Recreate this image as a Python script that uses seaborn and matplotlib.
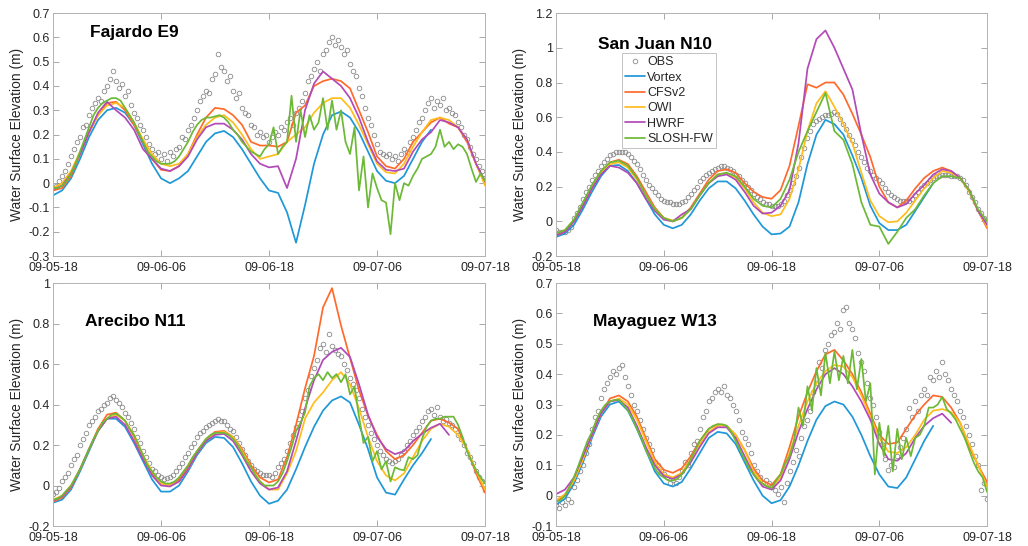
import numpy as np
import matplotlib
matplotlib.use("Agg")
import matplotlib.pyplot as plt
from matplotlib.ticker import FuncFormatter
import seaborn as sns

# ---------------- data (hours after 09-05 18:00) ----------------
HOURLY = 1.0
HALF = 0.5
THIRD = 1.0 / 3.0

x_tick_hours = [0, 12, 24, 36, 48]
x_tick_labels = ["09-05-18", "09-06-06", "09-06-18", "09-07-06", "09-07-18"]
series_names = ["OBS", "Vortex", "CFSv2", "OWI", "HWRF", "SLOSH-FW"]

# ---- Fajardo E9 ----
fajardo_obs = [-0.02, -0.01, 0.01, 0.03, 0.05, 0.08, 0.11, 0.14, 0.17, 0.19, 0.23, 0.24,
               0.28, 0.31, 0.33, 0.35, 0.34, 0.38, 0.40, 0.43, 0.46, 0.42, 0.39, 0.41,
               0.36, 0.38, 0.32, 0.29, 0.27, 0.24, 0.22, 0.19, 0.16, 0.14, 0.12, 0.13,
               0.10, 0.12, 0.09, 0.13, 0.11, 0.14, 0.15, 0.19, 0.18, 0.22, 0.24, 0.27,
               0.30, 0.34, 0.36, 0.38, 0.37, 0.43, 0.45, 0.53, 0.48, 0.46, 0.42, 0.44,
               0.38, 0.35, 0.37, 0.31, 0.29, 0.28, 0.24, 0.23, 0.20, 0.21, 0.19, 0.20,
               0.17, 0.19, 0.21, 0.20, 0.23, 0.22, 0.25, 0.27, 0.24, 0.29, 0.31, 0.34,
               0.37, 0.42, 0.44, 0.47, 0.50, 0.46, 0.53, 0.55, 0.58, 0.60, 0.57, 0.59,
               0.56, 0.53, 0.55, 0.49, 0.46, 0.44, 0.39, 0.36, 0.31, 0.27, 0.24, 0.20,
               0.16, 0.13, 0.12, 0.11, 0.12, 0.10, 0.11, 0.09, 0.12, 0.14, 0.13, 0.17,
               0.19, 0.22, 0.25, 0.27, 0.30, 0.33, 0.35, 0.31, 0.34, 0.32, 0.35, 0.30,
               0.31, 0.29, 0.28, 0.25, 0.23, 0.20, 0.18, 0.15, 0.12, 0.10, 0.07, 0.05,
               0.02]
fajardo_vortex = [-0.05, -0.03, 0.02, 0.10, 0.19, 0.26, 0.30, 0.31, 0.29, 0.24, 0.16, 0.08, 0.02,
                  0.0, 0.02, 0.05, 0.11, 0.17, 0.205, 0.215, 0.19, 0.14, 0.08, 0.02, -0.03, -0.04,
                  -0.12, -0.245, -0.09, 0.08, 0.20, 0.28, 0.295, 0.27, 0.21, 0.13, 0.05, 0.01, 0.0,
                  0.03, 0.10, 0.17, 0.22]
fajardo_cfsv2 = [-0.03, -0.02, 0.03, 0.12, 0.21, 0.28, 0.33, 0.335, 0.30, 0.24, 0.17, 0.10, 0.055,
                 0.05, 0.07, 0.12, 0.20, 0.27, 0.31, 0.305, 0.28, 0.24, 0.17, 0.155, 0.155, 0.15,
                 0.17, 0.29, 0.32, 0.40, 0.42, 0.43, 0.42, 0.39, 0.30, 0.21, 0.11, 0.07, 0.06,
                 0.10, 0.17, 0.21, 0.25, 0.27, 0.245, 0.23, 0.17, 0.08, 0.0]
fajardo_owi = [-0.02, 0.0, 0.05, 0.13, 0.21, 0.28, 0.32, 0.33, 0.31, 0.25, 0.18, 0.12, 0.08,
               0.07, 0.08, 0.12, 0.19, 0.24, 0.27, 0.28, 0.25, 0.20, 0.14, 0.10, 0.11, 0.12,
               0.17, 0.20, 0.23, 0.29, 0.33, 0.35, 0.35, 0.31, 0.24, 0.16, 0.08, 0.045, 0.04,
               0.08, 0.15, 0.21, 0.26, 0.27, 0.26, 0.23, 0.18, 0.08, -0.01]
fajardo_hwrf = [-0.025, -0.01, 0.04, 0.12, 0.21, 0.29, 0.335, 0.30, 0.27, 0.22, 0.14, 0.10, 0.06,
                0.05, 0.07, 0.11, 0.18, 0.23, 0.245, 0.245, 0.22, 0.18, 0.12, 0.08, 0.065, 0.07,
                -0.02, 0.10, 0.30, 0.41, 0.46, 0.43, 0.40, 0.35, 0.27, 0.17, 0.09, 0.055, 0.05,
                0.06, 0.13, 0.18, 0.21, 0.26, 0.25, 0.23, 0.18, 0.08, 0.01]
fajardo_slosh = [-0.02, -0.02, -0.01, 0.01, 0.04, 0.08, 0.13, 0.18, 0.23, 0.28,
                 0.31, 0.33, 0.34, 0.35, 0.35, 0.34, 0.31, 0.28, 0.25, 0.21,
                 0.17, 0.13, 0.11, 0.09, 0.08, 0.08, 0.08, 0.09, 0.11, 0.14,
                 0.17, 0.21, 0.24, 0.26, 0.27, 0.27, 0.275, 0.28, 0.27, 0.25,
                 0.22, 0.20, 0.17, 0.15, 0.13, 0.12, 0.11, 0.14, 0.16, 0.23,
                 0.12, 0.15, 0.17, 0.36, 0.17, 0.30, 0.19, 0.28, 0.22, 0.25,
                 0.35, 0.22, 0.34, 0.22, 0.30, 0.17, 0.12, 0.23, -0.03, 0.11,
                 -0.10, 0.04, -0.02, -0.07, -0.08, -0.21, 0.0, -0.07, 0.0, -0.01,
                 0.03, 0.06, 0.10, 0.11, 0.12, 0.15, 0.22, 0.15, 0.17, 0.14,
                 0.16, 0.15, 0.12, 0.06, 0.005, 0.04, 0.01]

# ---- San Juan N10 ----
sanjuan_obs = [-0.05, -0.06, -0.06, -0.06, -0.05, -0.03, 0.02, 0.05, 0.08, 0.13, 0.17, 0.20,
               0.24, 0.27, 0.29, 0.32, 0.34, 0.36, 0.38, 0.39, 0.40, 0.40, 0.40, 0.40,
               0.39, 0.37, 0.35, 0.33, 0.30, 0.27, 0.24, 0.21, 0.19, 0.17, 0.15, 0.13,
               0.12, 0.11, 0.11, 0.10, 0.10, 0.10, 0.11, 0.12, 0.14, 0.16, 0.18, 0.20,
               0.23, 0.25, 0.27, 0.28, 0.29, 0.30, 0.31, 0.32, 0.32, 0.31, 0.30, 0.29,
               0.27, 0.26, 0.24, 0.22, 0.20, 0.18, 0.16, 0.14, 0.13, 0.11, 0.10, 0.10,
               0.09, 0.09, 0.09, 0.10, 0.12, 0.15, 0.18, 0.22, 0.26, 0.31, 0.37, 0.42,
               0.48, 0.52, 0.56, 0.58, 0.59, 0.60, 0.61, 0.61, 0.62, 0.63, 0.62, 0.59,
               0.56, 0.53, 0.50, 0.47, 0.44, 0.40, 0.37, 0.34, 0.31, 0.29, 0.27, 0.25,
               0.24, 0.22, 0.19, 0.17, 0.15, 0.14, 0.13, 0.12, 0.12, 0.12, 0.12, 0.13,
               0.15, 0.17, 0.19, 0.21, 0.22, 0.24, 0.25, 0.26, 0.26, 0.27, 0.27, 0.27,
               0.26, 0.26, 0.26, 0.25, 0.24, 0.21, 0.17, 0.14, 0.11, 0.07, 0.05, 0.02,
               0.0]
sanjuan_vortex = [-0.09, -0.07, -0.02, 0.07, 0.17, 0.26, 0.32, 0.325, 0.29, 0.22, 0.13, 0.04, -0.02,
                  -0.04, -0.02, 0.04, 0.12, 0.19, 0.23, 0.23, 0.19, 0.12, 0.04, -0.03, -0.075, -0.07,
                  -0.03, 0.11, 0.33, 0.50, 0.585, 0.56, 0.50, 0.38, 0.25, 0.09, -0.01, -0.05, -0.05,
                  -0.02, 0.06, 0.14, 0.22]
sanjuan_cfsv2 = [-0.08, -0.06, 0.0, 0.09, 0.19, 0.28, 0.34, 0.355, 0.33, 0.26, 0.17, 0.08, 0.02,
                 0.0, 0.02, 0.08, 0.16, 0.24, 0.29, 0.30, 0.28, 0.22, 0.17, 0.14, 0.13, 0.18,
                 0.32, 0.55, 0.79, 0.77, 0.80, 0.80, 0.73, 0.62, 0.50, 0.37, 0.20, 0.11, 0.08,
                 0.12, 0.19, 0.25, 0.29, 0.31, 0.29, 0.25, 0.18, 0.06, -0.04]
sanjuan_owi = [-0.07, -0.05, 0.01, 0.10, 0.20, 0.28, 0.33, 0.34, 0.31, 0.24, 0.15, 0.07, 0.02,
               0.005, 0.02, 0.07, 0.15, 0.22, 0.27, 0.28, 0.25, 0.19, 0.11, 0.05, 0.03, 0.04,
               0.13, 0.30, 0.52, 0.68, 0.75, 0.66, 0.56, 0.45, 0.28, 0.12, 0.03, -0.005, 0.0,
               0.05, 0.12, 0.19, 0.25, 0.29, 0.28, 0.25, 0.17, 0.06, -0.03]
sanjuan_hwrf = [-0.08, -0.06, 0.0, 0.09, 0.19, 0.27, 0.32, 0.31, 0.28, 0.22, 0.13, 0.06, 0.01,
                0.0, 0.04, 0.07, 0.15, 0.22, 0.26, 0.27, 0.24, 0.17, 0.09, 0.045, 0.05, 0.09,
                0.18, 0.45, 0.88, 1.05, 1.10, 1.00, 0.88, 0.76, 0.50, 0.27, 0.16, 0.11, 0.08,
                0.10, 0.16, 0.21, 0.27, 0.30, 0.29, 0.25, 0.18, 0.06, -0.02]
sanjuan_slosh = [-0.07, -0.05, 0.01, 0.11, 0.21, 0.29, 0.34, 0.35, 0.32, 0.25, 0.15, 0.07, 0.02,
                 0.0, 0.02, 0.07, 0.15, 0.22, 0.27, 0.28, 0.26, 0.20, 0.13, 0.09, 0.08, 0.13,
                 0.24, 0.40, 0.52, 0.63, 0.74, 0.52, 0.47, 0.33, 0.11, -0.02, -0.03, -0.13, -0.06,
                 0.02, 0.07, 0.15, 0.22, 0.26, 0.26, 0.25, 0.18, 0.07, 0.0]

# ---- Arecibo N11 ----
arecibo_obs = [-0.04, -0.03, -0.01, 0.02, 0.04, 0.06, 0.10, 0.13, 0.15, 0.20, 0.23, 0.26,
               0.30, 0.32, 0.34, 0.37, 0.38, 0.40, 0.41, 0.43, 0.44, 0.42, 0.41, 0.39,
               0.36, 0.34, 0.31, 0.28, 0.24, 0.21, 0.17, 0.14, 0.11, 0.08, 0.07, 0.05,
               0.04, 0.03, 0.035, 0.04, 0.05, 0.07, 0.09, 0.11, 0.14, 0.16, 0.19, 0.21,
               0.24, 0.26, 0.27, 0.29, 0.30, 0.31, 0.32, 0.33, 0.32, 0.32, 0.30, 0.28,
               0.27, 0.24, 0.21, 0.18, 0.15, 0.12, 0.10, 0.08, 0.07, 0.06, 0.05, 0.05,
               0.05, 0.04, 0.06, 0.09, 0.11, 0.13, 0.17, 0.21, 0.25, 0.29, 0.33, 0.37,
               0.43, 0.47, 0.54, 0.58, 0.62, 0.68, 0.70, 0.66, 0.75, 0.69, 0.67, 0.65,
               0.64, 0.60, 0.57, 0.53, 0.50, 0.47, 0.43, 0.38, 0.34, 0.30, 0.26, 0.23,
               0.20, 0.17, 0.15, 0.13, 0.12, 0.11, 0.12, 0.13, 0.15, 0.17, 0.20, 0.22,
               0.25, 0.27, 0.29, 0.32, 0.34, 0.37, 0.38, 0.35, 0.39, 0.34, 0.32, 0.33,
               0.31, 0.30, 0.28, 0.25, 0.23, 0.20, 0.16, 0.14, 0.11, 0.07, 0.04, 0.02,
               -0.02]
arecibo_vortex = [-0.085, -0.07, -0.02, 0.07, 0.17, 0.27, 0.33, 0.33, 0.29, 0.21, 0.12, 0.03, -0.03,
                  -0.03, 0.0, 0.07, 0.15, 0.21, 0.24, 0.235, 0.19, 0.11, 0.02, -0.05, -0.09, -0.075,
                  -0.02, 0.08, 0.19, 0.29, 0.37, 0.42, 0.44, 0.41, 0.30, 0.18, 0.04, -0.035, -0.045,
                  0.03, 0.10, 0.16, 0.23]
arecibo_cfsv2 = [-0.08, -0.06, -0.01, 0.08, 0.18, 0.28, 0.35, 0.36, 0.32, 0.24, 0.14, 0.06, 0.01,
                 0.0, 0.03, 0.09, 0.17, 0.23, 0.265, 0.27, 0.24, 0.18, 0.10, 0.04, 0.015, 0.03,
                 0.14, 0.30, 0.48, 0.64, 0.88, 0.975, 0.79, 0.63, 0.47, 0.345, 0.25, 0.17, 0.13,
                 0.15, 0.20, 0.26, 0.32, 0.33, 0.31, 0.28, 0.18, 0.06, -0.035]
arecibo_owi = [-0.07, -0.05, 0.0, 0.08, 0.18, 0.27, 0.33, 0.35, 0.32, 0.25, 0.15, 0.07, 0.01,
               0.0, 0.02, 0.08, 0.16, 0.22, 0.26, 0.265, 0.24, 0.17, 0.09, 0.02, -0.02, -0.02,
               0.06, 0.17, 0.33, 0.41, 0.46, 0.52, 0.56, 0.50, 0.38, 0.24, 0.12, 0.05, 0.025,
               0.06, 0.14, 0.22, 0.28, 0.305, 0.29, 0.25, 0.18, 0.075, -0.02]
arecibo_hwrf = [-0.075, -0.055, -0.005, 0.08, 0.18, 0.27, 0.33, 0.34, 0.30, 0.22, 0.13, 0.05, 0.0,
                -0.005, 0.02, 0.08, 0.16, 0.22, 0.25, 0.255, 0.22, 0.15, 0.07, 0.01, -0.02, -0.01,
                0.07, 0.22, 0.38, 0.52, 0.62, 0.66, 0.68, 0.635, 0.50, 0.35, 0.24, 0.18, 0.155,
                0.17, 0.22, 0.255, 0.285, 0.305, 0.25]
arecibo_slosh = [-0.07, -0.065, -0.05, -0.025, 0.0, 0.04, 0.08, 0.13, 0.18, 0.23,
                 0.27, 0.31, 0.33, 0.35, 0.355, 0.34, 0.32, 0.28, 0.25, 0.20,
                 0.15, 0.10, 0.07, 0.04, 0.02, 0.01, 0.01, 0.02, 0.04, 0.07,
                 0.10, 0.14, 0.17, 0.20, 0.23, 0.25, 0.26, 0.26, 0.26, 0.25,
                 0.23, 0.20, 0.16, 0.12, 0.09, 0.05, 0.02, 0.0, 0.0, 0.0,
                 0.02, 0.06, 0.12, 0.19, 0.27, 0.31, 0.36, 0.49, 0.53, 0.55,
                 0.52, 0.56, 0.53, 0.55, 0.51, 0.55, 0.45, 0.49, 0.34, 0.21,
                 0.24, 0.12, 0.17, 0.08, 0.12, 0.02, 0.09, 0.08, 0.075, 0.14,
                 0.13, 0.15, 0.23, 0.29, 0.32, 0.33, 0.33, 0.34, 0.34, 0.34,
                 0.30, 0.24, 0.17, 0.12, 0.075, 0.04, 0.01]

# ---- Mayaguez W13 ----
mayaguez_obs = [-0.03, -0.04, -0.02, -0.03, -0.01, -0.02, 0.03, 0.05, 0.08, 0.10, 0.14, 0.17,
                0.22, 0.26, 0.28, 0.32, 0.35, 0.37, 0.39, 0.41, 0.40, 0.42, 0.43, 0.39,
                0.36, 0.33, 0.30, 0.28, 0.25, 0.22, 0.19, 0.17, 0.15, 0.11, 0.10, 0.08,
                0.07, 0.06, 0.04, 0.05, 0.04, 0.06, 0.08, 0.11, 0.10, 0.14, 0.17, 0.18,
                0.22, 0.26, 0.28, 0.31, 0.32, 0.34, 0.35, 0.34, 0.36, 0.33, 0.32, 0.30,
                0.28, 0.25, 0.21, 0.19, 0.17, 0.14, 0.10, 0.08, 0.06, 0.04, 0.05, 0.04,
                0.03, 0.02, 0.005, 0.03, -0.02, 0.04, 0.08, 0.11, 0.15, 0.13, 0.19, 0.23,
                0.25, 0.28, 0.34, 0.37, 0.44, 0.42, 0.48, 0.50, 0.53, 0.54, 0.57, 0.55,
                0.61, 0.62, 0.57, 0.55, 0.52, 0.47, 0.44, 0.41, 0.37, 0.32, 0.30, 0.26,
                0.21, 0.17, 0.12, 0.085, 0.10, 0.095, 0.13, 0.16, 0.19, 0.22, 0.29, 0.26,
                0.31, 0.28, 0.33, 0.35, 0.33, 0.39, 0.38, 0.41, 0.39, 0.44, 0.40, 0.38,
                0.35, 0.33, 0.31, 0.28, 0.26, 0.23, 0.20, 0.17, 0.13, 0.10, 0.02, 0.04,
                -0.01]
mayaguez_vortex = [-0.03, -0.01, 0.04, 0.11, 0.19, 0.26, 0.30, 0.31, 0.28, 0.22, 0.15, 0.08, 0.04,
                   0.03, 0.045, 0.09, 0.14, 0.19, 0.21, 0.205, 0.17, 0.11, 0.05, 0.0, -0.025, -0.015,
                   0.03, 0.10, 0.18, 0.25, 0.295, 0.31, 0.30, 0.26, 0.20, 0.13, 0.07, 0.03, 0.025,
                   0.06, 0.12, 0.18, 0.23]
mayaguez_cfsv2 = [-0.02, 0.0, 0.05, 0.12, 0.20, 0.27, 0.32, 0.33, 0.31, 0.26, 0.19, 0.12, 0.085,
                  0.075, 0.09, 0.13, 0.18, 0.22, 0.235, 0.23, 0.20, 0.15, 0.09, 0.05, 0.035, 0.07,
                  0.16, 0.26, 0.34, 0.41, 0.465, 0.48, 0.445, 0.40, 0.34, 0.27, 0.20, 0.17, 0.175,
                  0.22, 0.265, 0.30, 0.33, 0.325, 0.29, 0.24, 0.16, 0.10, 0.045]
mayaguez_owi = [-0.015, 0.005, 0.05, 0.12, 0.20, 0.27, 0.31, 0.32, 0.30, 0.25, 0.18, 0.11, 0.07,
                0.06, 0.075, 0.12, 0.17, 0.21, 0.23, 0.23, 0.20, 0.15, 0.08, 0.04, 0.025, 0.06,
                0.14, 0.23, 0.31, 0.37, 0.41, 0.43, 0.425, 0.39, 0.33, 0.26, 0.19, 0.145, 0.14,
                0.16, 0.20, 0.25, 0.28, 0.285, 0.275, 0.24, 0.17, 0.10, 0.03]
mayaguez_hwrf = [0.005, 0.02, 0.06, 0.13, 0.20, 0.27, 0.31, 0.315, 0.29, 0.23, 0.16, 0.10, 0.065,
                 0.055, 0.07, 0.11, 0.16, 0.205, 0.225, 0.225, 0.19, 0.13, 0.07, 0.03, 0.02, 0.05,
                 0.12, 0.21, 0.285, 0.35, 0.40, 0.42, 0.40, 0.36, 0.31, 0.25, 0.17, 0.12, 0.115,
                 0.14, 0.19, 0.23, 0.255, 0.27, 0.24]
mayaguez_slosh = [-0.02, -0.015, 0.0, 0.03, 0.06, 0.10, 0.14, 0.18, 0.21, 0.25,
                  0.28, 0.30, 0.31, 0.315, 0.315, 0.30, 0.28, 0.255, 0.22, 0.19,
                  0.15, 0.12, 0.09, 0.07, 0.06, 0.05, 0.05, 0.055, 0.07, 0.09,
                  0.12, 0.15, 0.18, 0.20, 0.22, 0.23, 0.235, 0.235, 0.23, 0.21,
                  0.18, 0.15, 0.12, 0.09, 0.07, 0.05, 0.04, 0.03, 0.025, 0.05,
                  0.07, 0.105, 0.13, 0.18, 0.29, 0.23, 0.36, 0.28, 0.42, 0.33,
                  0.47, 0.37, 0.475, 0.38, 0.46, 0.37, 0.48, 0.35, 0.45, 0.31,
                  0.37, 0.07, 0.24, 0.13, 0.23, 0.08, 0.22, 0.12, 0.19, 0.13,
                  0.19, 0.20, 0.23, 0.29, 0.29, 0.30, 0.325, 0.285, 0.27, 0.25,
                  0.22, 0.19, 0.15, 0.11, 0.08, 0.06, 0.012]

# ---------------- styling ----------------
colors = {"Vortex": "#1f97d8", "CFSv2": "#ff6a2c", "OWI": "#ffbd1c",
          "HWRF": "#b24ab8", "SLOSH-FW": "#6cb935"}

panels = [
    dict(name="Fajardo E9", obs=fajardo_obs, obs_dt=THIRD,
         models=[("Vortex", fajardo_vortex, HOURLY), ("CFSv2", fajardo_cfsv2, HOURLY),
                 ("OWI", fajardo_owi, HOURLY), ("HWRF", fajardo_hwrf, HOURLY),
                 ("SLOSH-FW", fajardo_slosh, HALF)],
         ylim=(-0.3, 0.7), yticks=[-0.3, -0.2, -0.1, 0, 0.1, 0.2, 0.3, 0.4, 0.5, 0.6, 0.7],
         rect=[0.0516, 0.531, 0.4202, 0.445], title_xy=(0.085, 0.92), legend=False),
    dict(name="San Juan N10", obs=sanjuan_obs, obs_dt=THIRD,
         models=[("Vortex", sanjuan_vortex, HOURLY), ("CFSv2", sanjuan_cfsv2, HOURLY),
                 ("OWI", sanjuan_owi, HOURLY), ("HWRF", sanjuan_hwrf, HOURLY),
                 ("SLOSH-FW", sanjuan_slosh, HOURLY)],
         ylim=(-0.2, 1.2), yticks=[-0.2, 0, 0.2, 0.4, 0.6, 0.8, 1, 1.2],
         rect=[0.5409, 0.531, 0.4193, 0.445], title_xy=(0.097, 0.87), legend=True),
    dict(name="Arecibo N11", obs=arecibo_obs, obs_dt=THIRD,
         models=[("Vortex", arecibo_vortex, HOURLY), ("CFSv2", arecibo_cfsv2, HOURLY),
                 ("OWI", arecibo_owi, HOURLY), ("HWRF", arecibo_hwrf, HOURLY),
                 ("SLOSH-FW", arecibo_slosh, HALF)],
         ylim=(-0.2, 1.0), yticks=[-0.2, 0, 0.2, 0.4, 0.6, 0.8, 1],
         rect=[0.0516, 0.0366, 0.4202, 0.445], title_xy=(0.073, 0.84), legend=False),
    dict(name="Mayaguez W13", obs=mayaguez_obs, obs_dt=THIRD,
         models=[("Vortex", mayaguez_vortex, HOURLY), ("CFSv2", mayaguez_cfsv2, HOURLY),
                 ("OWI", mayaguez_owi, HOURLY), ("HWRF", mayaguez_hwrf, HOURLY),
                 ("SLOSH-FW", mayaguez_slosh, HALF)],
         ylim=(-0.1, 0.7), yticks=[-0.1, 0, 0.1, 0.2, 0.3, 0.4, 0.5, 0.6, 0.7],
         rect=[0.5409, 0.0366, 0.4193, 0.445], title_xy=(0.085, 0.84), legend=False),
]

sns.set_theme(style="ticks")
plt.rcParams["font.family"] = ["Liberation Sans", "DejaVu Sans"]
plt.rcParams["axes.linewidth"] = 0.7

fig = plt.figure(figsize=(10.28, 5.46), dpi=100)
fig.patch.set_facecolor("white")

fmt = FuncFormatter(lambda v, p: f"{round(v, 2):g}")

for p in panels:
    ax = fig.add_axes(p["rect"])
    t_obs = np.arange(len(p["obs"])) * p["obs_dt"]
    sns.lineplot(x=t_obs, y=p["obs"], ax=ax, linestyle="none", marker="o",
                 markersize=3.3, markerfacecolor="none", markeredgecolor="#8a8a8a",
                 markeredgewidth=0.6, label="OBS", estimator=None, sort=False)
    for name, vals, dt in p["models"]:
        t = np.arange(len(vals)) * dt
        sns.lineplot(x=t, y=vals, ax=ax, color=colors[name], linewidth=1.25,
                     label=name, estimator=None, sort=False)
    ax.set_xlim(0, 48)
    ax.set_ylim(*p["ylim"])
    ax.set_xticks(x_tick_hours)
    ax.set_xticklabels(x_tick_labels)
    ax.set_yticks(p["yticks"])
    ax.yaxis.set_major_formatter(fmt)
    ax.tick_params(direction="in", top=True, right=True, length=4, width=0.6,
                   color="#9a9a9a", labelcolor="#262626", labelsize=9)
    ax.tick_params(axis="x", pad=4.5)
    ax.tick_params(axis="y", pad=2.5)
    for s in ax.spines.values():
        s.set_color("#b3b3b3")
        s.set_linewidth(0.7)
        s.set_visible(True)
    ax.set_ylabel("Water Surface Elevation (m)", fontsize=9.9, color="#262626", labelpad=3)
    ax.set_xlabel("")
    ax.text(p["title_xy"][0], p["title_xy"][1], p["name"], transform=ax.transAxes,
            fontsize=12.5, fontweight="bold", color="black", va="center", ha="left")
    leg = ax.get_legend()
    if leg is not None:
        leg.remove()
    if p["legend"]:
        lg = ax.legend(loc="upper left", bbox_to_anchor=(0.153, 0.835), borderaxespad=0,
                       fontsize=9, frameon=True, fancybox=False, handlelength=1.6,
                       handletextpad=0.15, labelspacing=0.27, borderpad=0.25)
        lg.get_frame().set_edgecolor("#b3b3b3")
        lg.get_frame().set_linewidth(0.7)
        for txt in lg.get_texts():
            txt.set_color("#262626")

fig.savefig("out.png", dpi=100, facecolor="white")
